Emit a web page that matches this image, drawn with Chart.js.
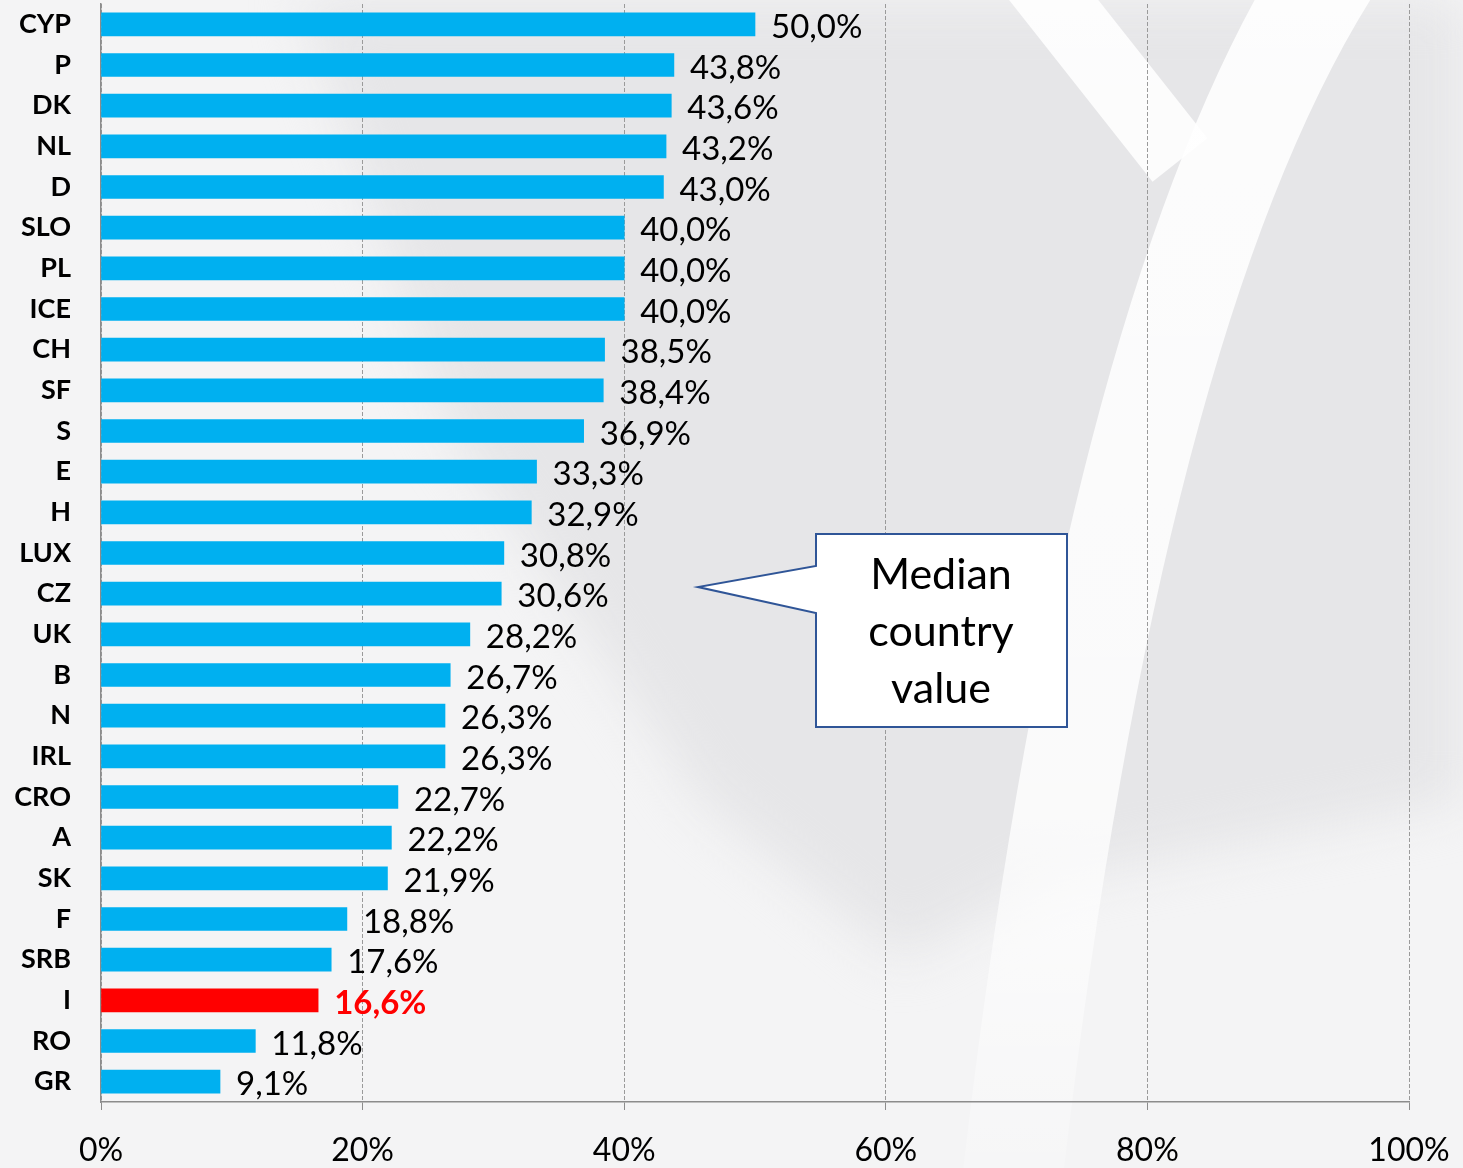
<!DOCTYPE html>
<html>
<head>
<meta charset="utf-8">
<script src="https://cdn.jsdelivr.net/npm/chart.js@4.4.1/dist/chart.umd.min.js"></script>
<style>
  html, body { margin: 0; padding: 0; background: #f4f4f5; }
  #wrap { width: 1463px; height: 1168px; position: relative; }
</style>
</head>
<body>
<div id="wrap"><canvas id="grafico"></canvas></div>
<script>
const paises = ['CYP', 'P', 'DK', 'NL', 'D', 'SLO', 'PL', 'ICE', 'CH', 'SF', 'S', 'E', 'H', 'LUX', 'CZ',
  'UK', 'B', 'N', 'IRL', 'CRO', 'A', 'SK', 'F', 'SRB', 'I', 'RO', 'GR']
const valores = [50.0, 43.8, 43.6, 43.2, 43.0, 40.0, 40.0, 40.0, 38.5, 38.4, 36.9, 33.3, 32.9, 30.8, 30.6,
  28.2, 26.7, 26.3, 26.3, 22.7, 22.2, 21.9, 18.8, 17.6, 16.6, 11.8, 9.1]
const destacado = 'I'
const ticksX = [0, 20, 40, 60, 80, 100]
const textoNota = ['Median', 'country', 'value']

const azul = '#00B0F0'
const rojo = '#FF0000'
const fuente = 'Lato, "Open Sans", sans-serif'

const formato = v => v.toFixed(1).replace('.', ',') + '%'

// fondo con la marca de agua aproximada
const fondo = {
  id: 'fondo',
  beforeDraw(chart) {
    const c = chart.ctx
    c.save()
    c.fillStyle = '#f4f4f5'
    c.fillRect(0, 0, chart.width, chart.height)

    c.filter = 'blur(25px)'
    c.fillStyle = '#e6e6e8'
    c.beginPath()
    c.moveTo(300, 0)
    c.lineTo(1463, 0)
    c.lineTo(1463, 800)
    c.lineTo(1050, 880)
    c.lineTo(900, 960)
    c.lineTo(700, 800)
    c.lineTo(450, 430)
    c.closePath()
    c.fill()
    c.filter = 'none'

    const g = c.createLinearGradient(0, 0, 0, 1168)
    g.addColorStop(0, 'rgba(255,255,255,0.9)')
    g.addColorStop(0.7, 'rgba(255,255,255,0.8)')
    g.addColorStop(1, 'rgba(255,255,255,0.2)')
    c.strokeStyle = g
    c.lineCap = 'butt'
    c.lineWidth = 100
    c.beginPath()
    c.moveTo(1330, -30)
    c.quadraticCurveTo(1110, 320, 1010, 1200)
    c.stroke()

    c.lineWidth = 70
    c.beginPath()
    c.moveTo(1030, -30)
    c.lineTo(1180, 160)
    c.stroke()
    c.restore()
  }
}

// etiquetas de valor al final de cada barra
const etiquetas = {
  id: 'etiquetas',
  afterDatasetsDraw(chart) {
    const c = chart.ctx
    const meta = chart.getDatasetMeta(0)
    c.save()
    c.textAlign = 'left'
    c.textBaseline = 'middle'
    meta.data.forEach((barra, i) => {
      const esI = paises[i] === destacado
      c.font = (esI ? 'bold ' : '') + '33px ' + fuente
      c.fillStyle = esI ? rojo : '#000000'
      c.fillText(formato(valores[i]), barra.x + 16, barra.y + 3)
    })
    c.restore()
  }
}

// cuadro "Median country value"
const nota = {
  id: 'nota',
  afterDraw(chart) {
    const c = chart.ctx
    c.save()
    c.fillStyle = '#ffffff'
    c.strokeStyle = '#2F5597'
    c.lineWidth = 2
    c.beginPath()
    c.moveTo(816, 534)
    c.lineTo(1067, 534)
    c.lineTo(1067, 727)
    c.lineTo(816, 727)
    c.lineTo(816, 613)
    c.lineTo(698, 587)
    c.lineTo(816, 566)
    c.closePath()
    c.fill()
    c.stroke()
    c.fillStyle = '#000000'
    c.font = '43px ' + fuente
    c.textAlign = 'center'
    c.textBaseline = 'middle'
    textoNota.forEach((t, i) => c.fillText(t, 941, 575 + i * 57))
    c.restore()
  }
}

const ctx = document.getElementById('grafico').getContext('2d')

window.grafico = new Chart(ctx, {
  type: 'bar',
  data: {
    labels: paises,
    datasets: [{
      data: valores,
      backgroundColor: paises.map(p => p === destacado ? rojo : azul),
      barThickness: 23,
      borderWidth: 0
    }]
  },
  options: {
    indexAxis: 'y',
    responsive: true,
    maintainAspectRatio: false,
    animation: false,
    layout: { padding: { top: 4, right: 54, left: 0, bottom: 0 } },
    plugins: { legend: { display: false }, tooltip: { enabled: false } },
    scales: {
      x: {
        min: 0,
        max: 100,
        afterBuildTicks: scale => { scale.ticks = ticksX.map(v => ({ value: v })) },
        afterFit: scale => {
          scale.height = 66
          scale.paddingLeft = 0
          scale.paddingRight = 0
        },
        grid: {
          color: '#9a9a9a',
          lineWidth: 1,
          drawTicks: true,
          tickLength: 8,
          tickColor: '#8c8c8c',
          tickBorderDash: []
        },
        border: { display: true, color: '#8c8c8c', width: 1.5, dash: [4, 2] },
        ticks: {
          color: '#000000',
          padding: 21,
          font: { family: fuente, size: 32 },
          callback: v => v + '%'
        }
      },
      y: {
        afterFit: scale => {
          scale.width = 101
          scale.paddingTop = 0
          scale.paddingBottom = 0
        },
        grid: { display: false },
        border: { display: true, color: '#8c8c8c', width: 1.5 },
        ticks: {
          color: '#000000',
          padding: 22,
          font: { family: fuente, size: 27, weight: 'bold' }
        }
      }
    }
  },
  plugins: [fondo, etiquetas, nota]
})
</script>
</body>
</html>
